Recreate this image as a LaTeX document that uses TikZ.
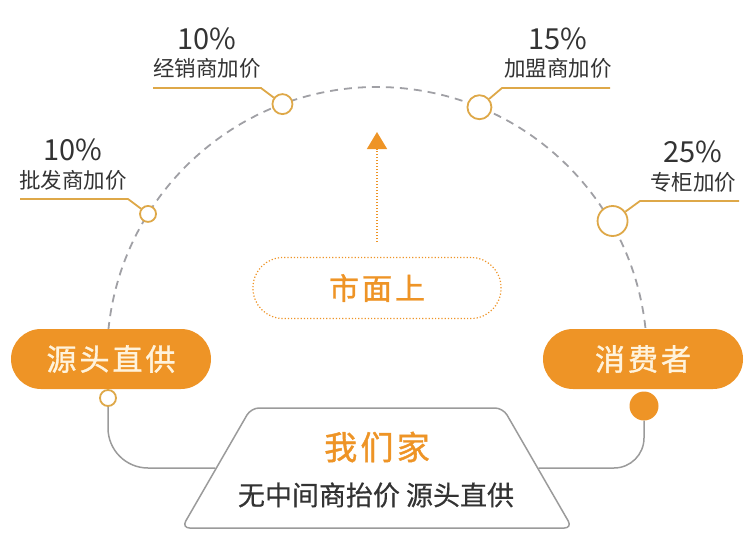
\documentclass[tikz,border=0pt]{standalone}
\usepackage{fontspec}
\setmainfont{Noto Sans CJK SC}
\newfontfamily\widecjk[LetterSpace=10, FakeBold=1.2]{Noto Sans CJK SC}
\newfontfamily\midcjk[FakeBold=0.5]{Noto Sans CJK SC}
\usetikzlibrary{shapes.geometric, arrows.meta}
\definecolor{amber}{RGB}{238,148,38}
\definecolor{cream}{RGB}{255,243,220}
\definecolor{gold}{RGB}{222,168,72}
\definecolor{ash}{RGB}{160,160,165}
\definecolor{slate}{RGB}{155,155,155}
\definecolor{ink}{RGB}{51,51,51}
\tikzstyle{pill} = [rectangle, rounded corners=30pt, minimum width=200pt, minimum height=60pt, fill=amber, text=cream, font=\widecjk\fontsize{30pt}{30pt}\selectfont]
\tikzstyle{dotbox} = [rectangle, rounded corners=30pt, minimum width=248pt, minimum height=61pt, draw=amber, line width=1.2pt, dash pattern=on 1.2pt off 2pt, text=amber, font=\widecjk\fontsize{30pt}{30pt}\selectfont]
\tikzstyle{plate} = [trapezium, trapezium angle=60, inner sep=0pt, text width=252pt, text height=120pt, text depth=0pt, draw=slate, line width=1.5pt, rounded corners=8pt, fill=white]
\tikzstyle{dot} = [circle, inner sep=0pt, draw=gold, line width=1.8pt, fill=white]
\tikzstyle{pct} = [text=ink, font=\fontsize{29pt}{29pt}\selectfont]
\tikzstyle{tag} = [text=ink, font=\fontsize{21.5pt}{22pt}\selectfont]
\tikzstyle{leader} = [gold, line width=1.8pt]
\tikzstyle{arcline} = [ash, line width=1.8pt, dash pattern=on 8pt off 6pt]
\tikzstyle{link} = [slate, line width=1.5pt]
\tikzstyle{uparrow} = [amber, line width=1.5pt, dash pattern=on 1.2pt off 1.8pt, -{Triangle[width=20pt,length=17pt]}]

\begin{document}
\begin{tikzpicture}[x=1pt, y=-1pt]
\useasboundingbox (0,0) rectangle (754,557);
\coordinate (hub) at (377,357);
\draw [arcline] ([shift={(174.26:270pt)}]hub) arc [start angle=174.26, end angle=5.74, radius=270pt];

% markup points on the arc
\node (m1) [dot, minimum size=16pt] at ([shift={(148:270pt)}]hub) {};
\node (m2) [dot, minimum size=20pt] at ([shift={(110.5:270pt)}]hub) {};
\node (m3) [dot, minimum size=24pt] at ([shift={(67.7:270pt)}]hub) {};
\node (m4) [dot, minimum size=30pt] at ([shift={(30:272pt)}]hub) {};

\coordinate (k1) at (128,199); \coordinate (e1) at (20,199);
\coordinate (k2) at (261,88);  \coordinate (e2) at (153,88);
\coordinate (k3) at (502,88);  \coordinate (e3) at (610,88);
\coordinate (k4) at (640,201); \coordinate (e4) at (739,201);
\draw [leader] (m1) -- (k1) -- (e1);
\draw [leader] (m2) -- (k2) -- (e2);
\draw [leader] (m3) -- (k3) -- (e3);
\draw [leader] (m4) -- (k4) -- (e4);

\node (p1) [pct] at (73,150) {10\%};
\node (t1) [tag] at (73,180) {批发商加价};
\node (p2) [pct] at (207,39) {10\%};
\node (t2) [tag] at (207,68) {经销商加价};
\node (p3) [pct] at (558,39) {15\%};
\node (t3) [tag] at (558,68) {加盟商加价};
\node (p4) [pct] at (693,152) {25\%};
\node (t4) [tag] at (693,182) {专柜加价};

\node (src) [pill] at (111,359) {源头直供};
\node (buyer) [pill] at (643,359) {消费者};
\node (srcdot) [dot, minimum size=16pt] at (108,398) {};
\node (buydot) [circle, fill=amber, inner sep=0pt, minimum size=29pt] at (644,406) {};

\node (mkt) [dotbox] at (377,288) {市面上};
\coordinate (rise) at (377,242);
\coordinate (peak) at (377,132);
\draw [uparrow] (rise) -- (peak);

\node (home) [plate] at (377,468) {};
\node (we) [text=amber, font=\widecjk\fontsize{33pt}{33pt}\selectfont] at (377,447) {我们家};
\node (note) [text=ink, font=\midcjk\fontsize{27pt}{27pt}\selectfont] at (376,495) {无中间商抬价 源头直供};

 \draw [link, rounded corners=40pt] (srcdot.south) |- (home.west);
 \draw [link, rounded corners=30pt] (home.east) -| (buydot.south);

\end{tikzpicture}
\end{document}
